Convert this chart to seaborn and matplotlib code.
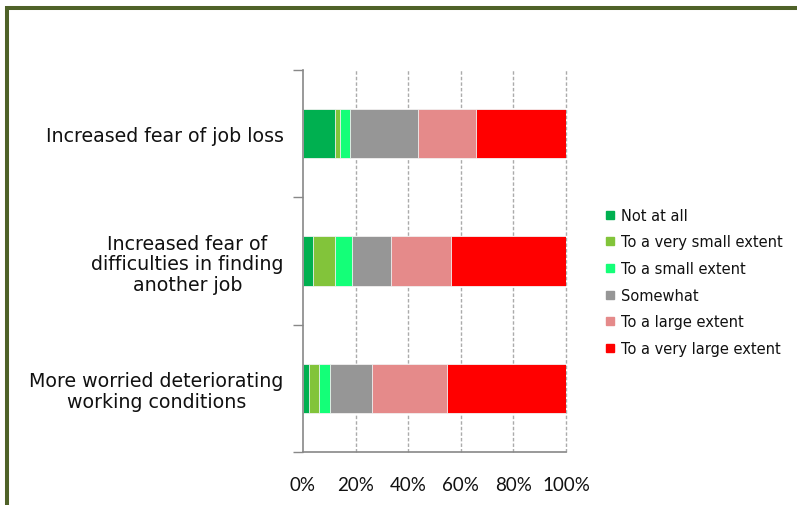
import matplotlib
matplotlib.use("Agg")
import matplotlib.pyplot as plt
import seaborn as sns
import pandas as pd
import numpy as np
from matplotlib.lines import Line2D

categories = [
    "Increased fear of job loss",
    "Increased fear of\ndifficulties in finding\nanother job",
    "More worried deteriorating\nworking conditions",
]
series_names = [
    "Not at all",
    "To a very small extent",
    "To a small extent",
    "Somewhat",
    "To a large extent",
    "To a very large extent",
]
not_at_all = [12.0, 3.9, 2.2]
very_small = [2.0, 8.3, 3.9]
small = [4.0, 6.6, 4.0]
somewhat = [25.7, 14.5, 16.1]
large = [22.2, 22.9, 28.7]
very_large = [34.1, 43.8, 45.1]
colors = ["#00B050", "#82C43A", "#14FF78", "#969696", "#E58A8A", "#FF0000"]
xticks = [0, 20, 40, 60, 80, 100]
xticklabels = ["0%", "20%", "40%", "60%", "80%", "100%"]

values = [not_at_all, very_small, small, somewhat, large, very_large]
df = pd.DataFrame({name: v for name, v in zip(series_names, values)}, index=categories)
cum = df.cumsum(axis=1)

sns.set_style("white")
plt.rcParams["font.family"] = ["DejaVu Sans"]

fig = plt.figure(figsize=(7.97, 5.06), dpi=100)
ax = fig.add_axes([303 / 797, 1 - 453 / 506, 263 / 797, (453 - 71) / 506])

# gridlines
for xv in xticks[1:]:
    ax.axvline(xv, color="#ABABAB", lw=1.0, ls=(0, (2.5, 1.5)), zorder=0, clip_on=False)

handles = {}
for name, col in reversed(list(zip(series_names, colors))):
    plot_df = pd.DataFrame({"cat": categories, "val": cum[name].values})
    sns.barplot(data=plot_df, x="val", y="cat", orient="h", color=col,
                width=0.39, ax=ax, edgecolor="#F2F2F2", linewidth=0.6,
                saturation=1, zorder=2)
    handles[name] = Line2D([], [], marker="s", ls="none", markersize=6.2,
                           markerfacecolor=col, markeredgecolor=col)

ax.set_xlim(0, 100)
ax.set_ylim(2.5, -0.5)
ax.set_xlabel("")
ax.set_ylabel("")
ax.set_xticks(xticks)
ax.set_xticklabels(xticklabels, family=["Lato", "DejaVu Sans"], fontsize=13.5)
ax.tick_params(axis="x", length=5, width=1, color="#888888", pad=12, labelcolor="#111111")

ax.set_yticks(range(len(categories)))
ax.set_yticklabels(categories, fontsize=13.7, multialignment="center", color="#111111",
                   linespacing=1.12)
ax.tick_params(axis="y", which="major", length=0, pad=14)
ax.set_yticks([-0.5, 0.5, 1.5, 2.5], minor=True)
ax.tick_params(axis="y", which="minor", length=7, width=1, color="#888888", left=True)

for s in ["top", "right"]:
    ax.spines[s].set_visible(False)
for s in ["left", "bottom"]:
    ax.spines[s].set_color("#888888")
    ax.spines[s].set_linewidth(1.2)

leg = fig.legend([handles[n] for n in series_names], series_names,
                 loc="center left", bbox_to_anchor=(606 / 797, 1 - 283 / 506),
                 frameon=False, fontsize=10.5, handlelength=0.6, handletextpad=0.4,
                 labelspacing=0.8, borderpad=0, borderaxespad=0)
for t in leg.get_texts():
    t.set_color("#111111")

# green frame
border_col = "#4F6228"
fig.add_artist(Line2D([7 / 797, 1.0], [1 - 8.5 / 506, 1 - 8.5 / 506],
                      transform=fig.transFigure, color=border_col, lw=2.9,
                      solid_capstyle="butt"))
fig.add_artist(Line2D([7 / 797, 7 / 797], [1 - 6.5 / 506, 0.0],
                      transform=fig.transFigure, color=border_col, lw=2.9,
                      solid_capstyle="butt"))

fig.savefig("out.png", dpi=100, facecolor="white")
